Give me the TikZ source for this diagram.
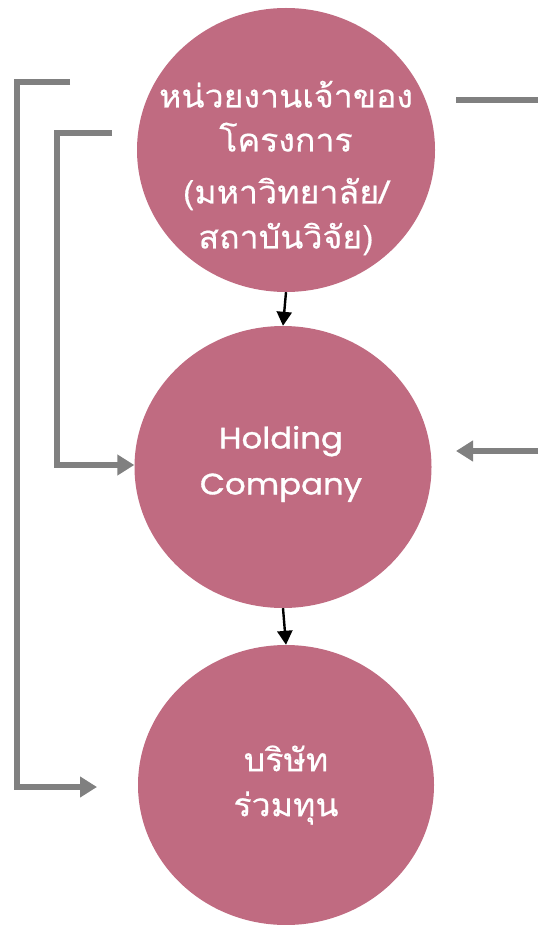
\documentclass[tikz,border=0pt]{standalone}
\usepackage{fontspec}
\newfontfamily\thaifont[Script=Thai,FakeStretch=1.06,FakeBold=0.45]{Loma}
\newfontfamily\latinfont[FakeStretch=1.1,FakeBold=1.2]{Poppins}
\usetikzlibrary{arrows.meta,shapes.geometric}
\definecolor{circfill}{HTML}{C06B81}
\definecolor{linegray}{HTML}{808080}
\tikzset{
  circ/.style={ellipse, fill=circfill, inner sep=0pt},
  thaitext/.style={text=white, font=\thaifont\fontsize{32}{45}\selectfont, align=center, inner sep=0pt},
  latintext/.style={text=white, font=\latinfont\fontsize{29.5}{46}\selectfont, align=center, inner sep=0pt},
  grayline/.style={draw=linegray, line width=6pt},
  grayarrow/.style={grayline, -{Triangle[length=17pt,width=20pt]}},
  blackarrow/.style={draw=black, line width=2.4pt, -{Triangle[length=14pt,width=15pt]}},
}
\begin{document}
\begin{tikzpicture}[x=1pt,y=-1pt]
\useasboundingbox (0,0) rectangle (538,925);
\node[circ, minimum width=298pt, minimum height=284pt] (c1) at (286,150) {};
\node[circ, minimum width=297pt, minimum height=282pt] (c2) at (283,467) {};
\node[circ, minimum width=296pt, minimum height=280pt] (c3) at (286,785) {};
\node[thaitext] (t1) at (286,168) {หน่วยงานเจ้าของ\\[-1pt]โครงการ\\[7pt](มหาวิทยาลัย/\\สถาบันวิจัย)};
\node[latintext] (t2) at (281,464) {Holding\\Company};
\node[thaitext] (t3) at (286,785) {บริษัท\\ร่วมทุน};
\draw[blackarrow] (c1.south) -- (c2.north);
\draw[blackarrow] (c2.south) -- (c3.north);
\coordinate (o1) at (70,82);
\coordinate (o2) at (97,787);
\coordinate (i1) at (112,133);
\draw[grayarrow] (o1) -- (17,82) -- (17,787) -- (o2);
\draw[grayarrow] (i1) -- (57,133) -- (57,465) -- (c2.west |- 0,465);
\coordinate (r1) at (456,100);
\coordinate (r2) at (538,100);
\draw[grayline] (r1) -- (r2);
\coordinate (r3) at (538,451);
\coordinate (r4) at (456,451);
\draw[grayarrow] (r3) -- (r4);
\end{tikzpicture}
\end{document}
